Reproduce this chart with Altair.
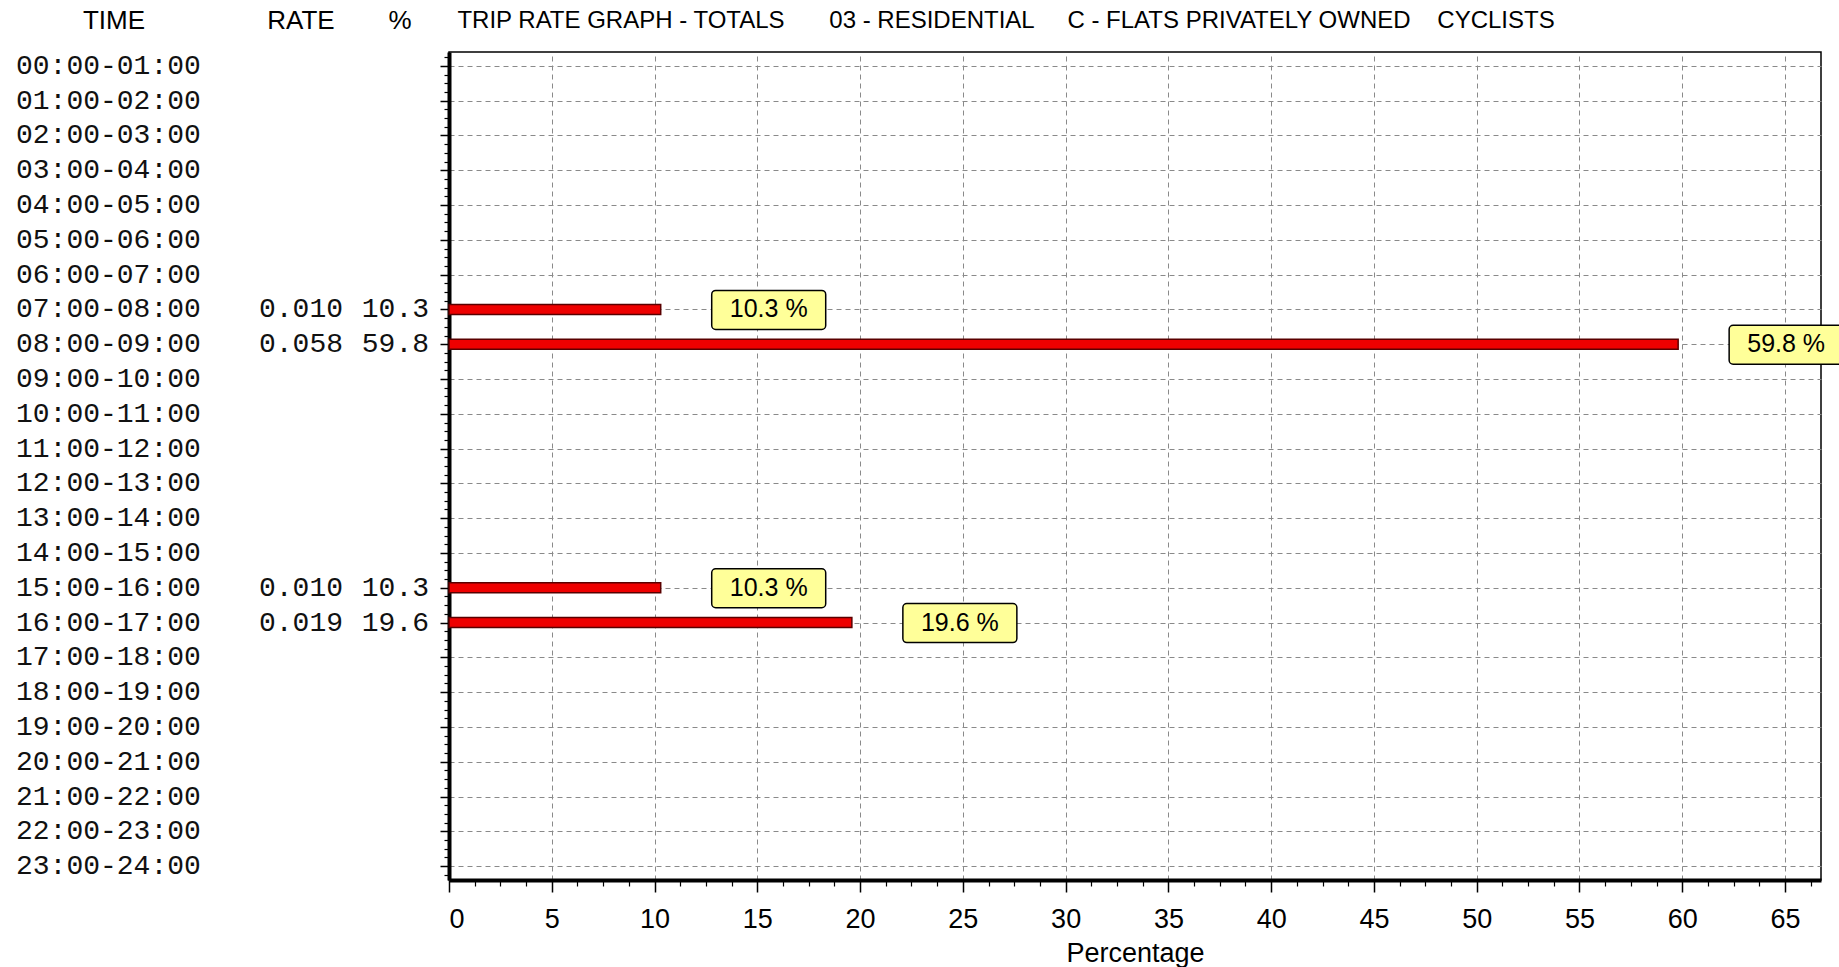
import altair as alt
import pandas as pd

# ---- data ----
time_labels = [
    "00:00-01:00", "01:00-02:00", "02:00-03:00", "03:00-04:00",
    "04:00-05:00", "05:00-06:00", "06:00-07:00", "07:00-08:00",
    "08:00-09:00", "09:00-10:00", "10:00-11:00", "11:00-12:00",
    "12:00-13:00", "13:00-14:00", "14:00-15:00", "15:00-16:00",
    "16:00-17:00", "17:00-18:00", "18:00-19:00", "19:00-20:00",
    "20:00-21:00", "21:00-22:00", "22:00-23:00", "23:00-24:00",
]
rate_text = ["", "", "", "", "", "", "", "0.010",
             "0.058", "", "", "", "", "", "", "0.010",
             "0.019", "", "", "", "", "", "", ""]
pct_values = [None, None, None, None, None, None, None, 10.3,
              59.8, None, None, None, None, None, None, 10.3,
              19.6, None, None, None, None, None, None, None]
header_labels = ["TIME", "RATE", "%"]
title_parts = ["TRIP RATE GRAPH - TOTALS", "03 - RESIDENTIAL",
               "C - FLATS PRIVATELY OWNED", "CYCLISTS"]
x_title = "Percentage"
x_ticks = [0, 5, 10, 15, 20, 25, 30, 35, 40, 45, 50, 55, 60, 65]

rows = pd.DataFrame({
    "row": list(range(len(time_labels))),
    "time": time_labels,
    "rate": rate_text,
    "pct_txt": ["" if v is None else f"{v}" for v in pct_values],
})
bars = pd.DataFrame({
    "row": [i for i, v in enumerate(pct_values) if v is not None],
    "pct": [v for v in pct_values if v is not None],
})
bars["label"] = bars["pct"].map(lambda v: f"{v} %")

W, H = 1372, 828
SANS = "Liberation Sans"
MONO = "Liberation Mono"
GRID = "#8a8a8a"

xscale = alt.Scale(domain=[0, 66.75], nice=False, zero=False)
yscale = alt.Scale(domain=[-0.4, 23.4], reverse=True, nice=False, zero=False)

x_minor_vals = [i * 1.25 for i in range(54) if i % 4 != 0]
y_minor_vals = [i * 0.25 - 0.25 for i in range(95) if (i - 1) % 4 != 0]

major_x = alt.Axis(orient="bottom", values=x_ticks, grid=True, gridColor=GRID,
                   gridDash=[5, 4], gridWidth=1, domainColor="black",
                   domainWidth=4, tickColor="black", tickSize=12, tickWidth=1.5,
                   labelFont=SANS, labelFontSize=27, labelColor="black",
                   labelPadding=14, title=x_title, titleFont=SANS,
                   titleFontSize=27, titleFontWeight="normal",
                   titleColor="black", titlePadding=8)
major_y = alt.Axis(orient="left", values=list(range(24)), grid=True,
                   gridColor=GRID, gridDash=[5, 4], gridWidth=1,
                   domainColor="black", domainWidth=4, tickColor="black",
                   tickSize=9, tickWidth=1.5, labels=False, title=None)
minor_x = alt.Axis(orient="bottom", values=x_minor_vals, grid=False,
                   domain=False, tickColor="black", tickSize=6, tickWidth=1.2,
                   labels=False, title=None)
minor_y = alt.Axis(orient="left", values=y_minor_vals, grid=False,
                   domain=False, tickColor="black", tickSize=5, tickWidth=1.2,
                   labels=False, title=None)

bar_layer = alt.Chart(bars).mark_rect(
    fill="#ee0000", stroke="#5a0000", strokeWidth=1.5, yOffset=-5, y2Offset=5
).encode(
    x=alt.X("pct:Q", scale=xscale, axis=major_x),
    x2=alt.datum(0),
    y=alt.Y("row:Q", scale=yscale, axis=major_y),
    y2="row",
)

minor_layer = alt.Chart(bars).mark_rect(opacity=0).encode(
    x=alt.X("pct:Q", scale=xscale, axis=minor_x),
    x2=alt.datum(0),
    y=alt.Y("row:Q", scale=yscale, axis=minor_y),
    y2="row",
)

box_layer = alt.Chart(bars).mark_rect(
    fill="#ffff99", stroke="black", strokeWidth=1.5, cornerRadius=4,
    xOffset=51, x2Offset=165, yOffset=-19, y2Offset=20
).encode(
    x=alt.X("pct:Q", scale=xscale, axis=None),
    x2="pct",
    y=alt.Y("row:Q", scale=yscale, axis=None),
    y2="row",
)

box_text = alt.Chart(bars).mark_text(
    font=SANS, fontSize=25, color="black", dx=108, baseline="middle",
    align="center"
).encode(
    x=alt.X("pct:Q", scale=xscale, axis=None),
    y=alt.Y("row:Q", scale=yscale, axis=None),
    text="label:N",
)

time_layer = alt.Chart(rows).mark_text(
    font=MONO, fontSize=28, color="#111111", align="left", baseline="middle"
).encode(
    x=alt.value(-433),
    y=alt.Y("row:Q", scale=yscale, axis=None),
    text="time:N",
)
rate_layer = alt.Chart(rows).mark_text(
    font=MONO, fontSize=28, color="#111111", align="left", baseline="middle"
).encode(
    x=alt.value(-190),
    y=alt.Y("row:Q", scale=yscale, axis=None),
    text="rate:N",
)
pct_layer = alt.Chart(rows).mark_text(
    font=MONO, fontSize=28, color="#111111", align="right", baseline="middle"
).encode(
    x=alt.value(-20),
    y=alt.Y("row:Q", scale=yscale, axis=None),
    text="pct_txt:N",
)

one = pd.DataFrame({"k": [0]})
header_x = [-335, -148, -49]
headers = [
    alt.Chart(one).mark_text(font=SANS, fontSize=26, color="black",
                             align="center", baseline="middle").encode(
        x=alt.value(hx), y=alt.value(-31), text=alt.value(t))
    for t, hx in zip(header_labels, header_x)
]
title_cx = [172, 483, 790, 1047]
titles = [
    alt.Chart(one).mark_text(font=SANS, fontSize=24, color="black",
                             align="center", baseline="middle").encode(
        x=alt.value(tx), y=alt.value(-31), text=alt.value(t))
    for t, tx in zip(title_parts, title_cx)
]

chart = alt.layer(
    bar_layer, minor_layer, box_layer, box_text,
    time_layer, rate_layer, pct_layer, *headers, *titles
).resolve_axis(x="independent", y="independent").properties(
    width=W, height=H,
    autosize=alt.AutoSizeParams(type="none"),
    padding={"left": 449, "top": 52, "right": 18, "bottom": 87},
    background="white",
).configure_view(stroke="black", strokeWidth=1.5)

chart.save("out.html", embed_options={"renderer": "svg", "actions": False})
